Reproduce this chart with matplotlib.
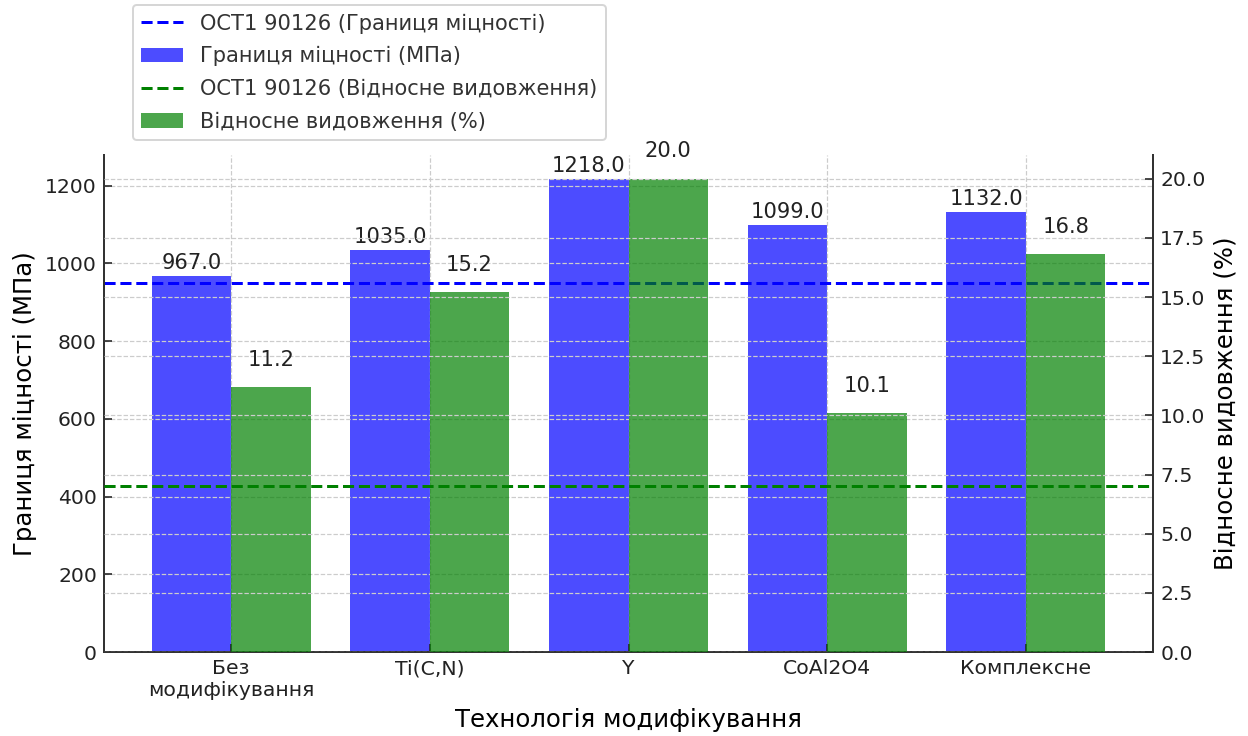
import matplotlib.pyplot as plt
import numpy as np

# Дані
technologies = ['Без\nмодифікування', 'Ti(C,N)', 'Y', 'CoAl2O4', 'Комплексне']
strength = [967.0, 1035.0, 1218.0, 1099.0, 1132.0]      # МПа
elongation = [11.2, 15.2, 20.0, 10.1, 16.8]            # %
strength_norm = 950     # ОСТ1 90126
elongation_norm = 7     # ОСТ1 90126

plt.rcParams['font.family'] = ['DejaVu Sans']
plt.rcParams['font.size'] = 10

fig = plt.figure(figsize=(1248 / 144, 736 / 144), dpi=144)
ax1 = fig.add_axes([0.0833, 0.1141, 0.8407, 0.6753])
ax2 = ax1.twinx()

x = np.arange(len(technologies))
width = 0.4

# Границя міцності (ліва вісь)
bars1 = ax1.bar(x - width / 2, strength, width, color='blue', alpha=0.7,
                label='Границя міцності (МПа)')
line1 = ax1.axhline(strength_norm, color='blue', linestyle='--',
                    label='ОСТ1 90126 (Границя міцності)')

# Відносне видовження (права вісь)
bars2 = ax2.bar(x + width / 2, elongation, width, color='green', alpha=0.7,
                label='Відносне видовження (%)')
line2 = ax2.axhline(elongation_norm, color='green', linestyle='--',
                    label='ОСТ1 90126 (Відносне видовження)')

ax1.set_ylim(0, max(strength) * 1.05)
ax2.set_ylim(0, max(elongation) * 1.05)

# Підписи значень
for b, v in zip(bars1, strength):
    ax1.annotate(f'{v:.1f}', (b.get_x() + b.get_width() / 2, v),
                 xytext=(0, 1.5), textcoords='offset points',
                 ha='center', va='bottom', fontsize=10.5, color='#222222')
for b, v in zip(bars2, elongation):
    ax2.annotate(f'{v:.1f}', (b.get_x() + b.get_width() / 2, v),
                 xytext=(0, 8.6), textcoords='offset points',
                 ha='center', va='bottom', fontsize=10.5, color='#222222')

ax1.set_xticks(x)
ax1.set_xticklabels(technologies)
ax1.set_xlabel('Технологія модифікування', fontsize=12.2)
ax1.set_ylabel('Границя міцності (МПа)', fontsize=12.2)
ax2.set_ylabel('Відносне видовження (%)', fontsize=12.2)

for ax in (ax1, ax2):
    ax.grid(True, linestyle='--', color='#cccccc', linewidth=0.6)
    ax.tick_params(direction='in', length=4, colors='#222222', labelsize=10.2)
    ax.spines['top'].set_visible(False)
    for s in ax.spines.values():
        s.set_color('#333333')
        s.set_linewidth(1.0)
ax1.spines['right'].set_visible(False)
ax2.spines['left'].set_visible(False)
ax2.spines['bottom'].set_visible(False)

handles = [line1, bars1, line2, bars2]
fig.legend(handles, [h.get_label() for h in handles],
           loc='upper left', bbox_to_anchor=(133 / 1248, 1 - 5 / 736),
           borderaxespad=0, fontsize=10.5, labelcolor='#333333',
           labelspacing=0.6, edgecolor='#cccccc', fancybox=True)

fig.savefig('out.png', dpi=144)
